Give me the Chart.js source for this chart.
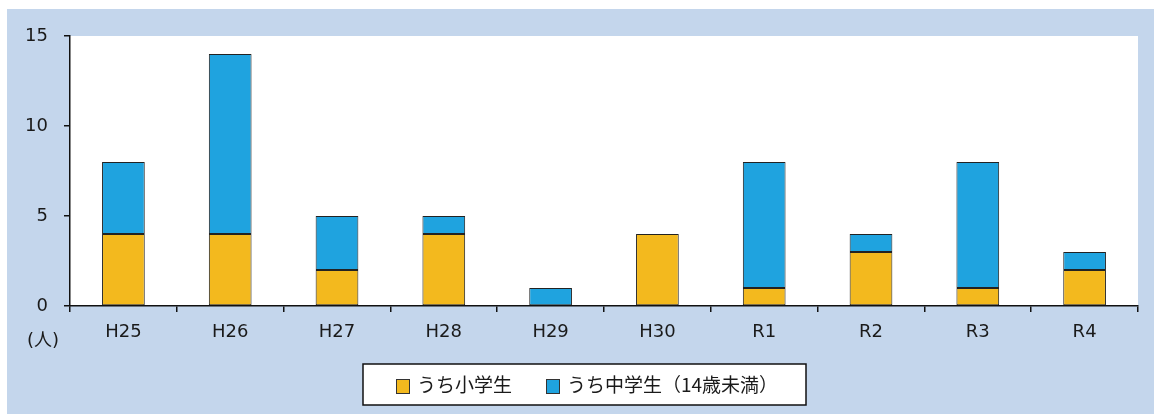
<!DOCTYPE html>
<html lang="ja">
<head>
<meta charset="UTF-8" />
<title>人数の推移</title>
<script src="https://cdn.jsdelivr.net/npm/chart.js"></script>
<style>
  html, body { margin: 0; padding: 0; background: #ffffff; }
  #wrap { width: 1154px; height: 414px; }
</style>
</head>
<body>
<div id="wrap"><canvas id="myChart" width="1154" height="414"></canvas></div>
<script>
// data
var nendo = ["H25", "H26", "H27", "H28", "H29", "H30", "R1", "R2", "R3", "R4"];
var shogakusei = [4, 4, 2, 4, 0, 4, 1, 3, 1, 2];
var chugakusei = [4, 10, 3, 1, 1, 0, 7, 1, 7, 1];
var yTicks = [0, 5, 10, 15];
var seriesNames = ["うち小学生", "うち中学生（14歳未満）"];

var fontFamily = "Verdana, 'DejaVu Sans', 'Noto Sans CJK JP', sans-serif";
var jpFont = "'Noto Sans CJK JP', 'DejaVu Sans', sans-serif";

// background + legend + unit label
const bgPlugin = {
  id: "bgPlugin",
  beforeDraw(chart) {
    const ctx = chart.ctx;
    const a = chart.chartArea;
    ctx.save();
    ctx.fillStyle = "#c4d6ec";
    ctx.fillRect(7, 9, chart.width - 7, chart.height - 9);
    ctx.fillStyle = "#ffffff";
    ctx.fillRect(a.left, a.top, a.right - a.left, a.bottom - a.top);
    ctx.restore();
  },
  afterDraw(chart) {
    const ctx = chart.ctx;
    ctx.save();
    // unit
    ctx.fillStyle = "#1a1a1a";
    ctx.font = "18px " + fontFamily;
    ctx.textAlign = "center";
    ctx.textBaseline = "middle";
    ctx.fillText("(人)", 43, 341);

    // legend box
    const bx = 363, by = 364, bw = 443, bh = 41;
    ctx.fillStyle = "#ffffff";
    ctx.fillRect(bx, by, bw, bh);
    ctx.strokeStyle = "#111111";
    ctx.lineWidth = 1.5;
    ctx.strokeRect(bx, by, bw, bh);

    const items = chart.data.datasets;
    const xs = [396, 546];
    ctx.font = "19px " + jpFont;
    ctx.textAlign = "left";
    for (let i = 0; i < items.length; i++) {
      ctx.fillStyle = items[i].backgroundColor;
      ctx.fillRect(xs[i], by + 15, 13, 14);
      ctx.strokeStyle = "#333333";
      ctx.lineWidth = 1;
      ctx.strokeRect(xs[i] + 0.5, by + 15.5, 13, 14);
      ctx.fillStyle = "#1a1a1a";
      ctx.fillText(items[i].label, xs[i] + 21, by + 21);
    }
    ctx.restore();
  }
};

const config = {
  type: "bar",
  data: {
    labels: nendo,
    datasets: [
      {
        label: seriesNames[0],
        data: shogakusei,
        backgroundColor: "#f3b91e",
        borderColor: "#222222",
        borderWidth: 1,
        borderSkipped: false,
        categoryPercentage: 1,
        barPercentage: 0.4
      },
      {
        label: seriesNames[1],
        data: chugakusei,
        backgroundColor: "#1fa3df",
        borderColor: "#222222",
        borderWidth: 1,
        borderSkipped: false,
        categoryPercentage: 1,
        barPercentage: 0.4
      }
    ]
  },
  options: {
    responsive: false,
    animation: false,
    layout: { padding: { left: 0, top: 36, right: 16, bottom: 0 } },
    plugins: {
      legend: { display: false },
      tooltip: { enabled: false }
    },
    scales: {
      x: {
        stacked: true,
        offset: true,
        grid: {
          display: true,
          drawOnChartArea: false,
          offset: true,
          color: "#111111",
          lineWidth: 1.5,
          tickLength: 6
        },
        border: { display: true, color: "#111111", width: 1.5 },
        ticks: {
          color: "#1a1a1a",
          font: { family: fontFamily, size: 18 },
          padding: 10,
          maxRotation: 0
        },
        afterFit(scale) { scale.height = 108; }
      },
      y: {
        stacked: true,
        min: 0,
        max: 15,
        afterBuildTicks(scale) {
          scale.ticks = yTicks.map(v => ({ value: v }));
        },
        grid: {
          display: true,
          drawOnChartArea: false,
          color: "#111111",
          lineWidth: 1.5,
          tickLength: 6
        },
        border: { display: true, color: "#111111", width: 1.5 },
        ticks: {
          color: "#1a1a1a",
          font: { family: fontFamily, size: 18 },
          padding: 16
        },
        afterFit(scale) { scale.width = 70; }
      }
    }
  },
  plugins: [bgPlugin]
};

var myChartBar = new Chart(document.getElementById("myChart"), config);
</script>
</body>
</html>
